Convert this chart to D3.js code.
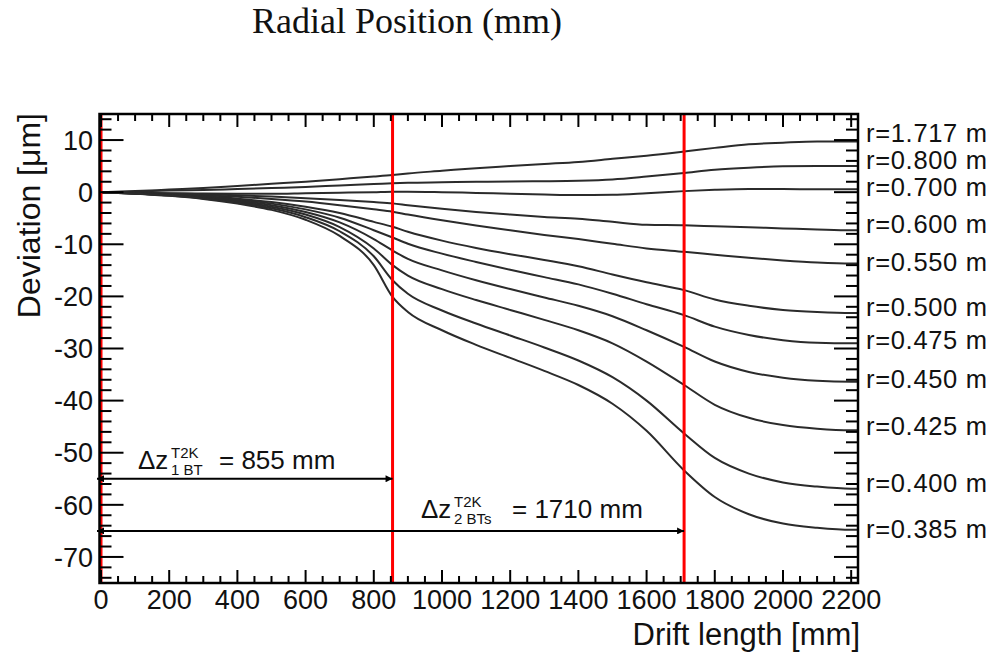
<!DOCTYPE html>
<html>
<head>
<meta charset="utf-8">
<script src="https://cdn.jsdelivr.net/npm/d3@7"></script>
<style>
  html, body { margin: 0; padding: 0; background: #fff; }
  svg { display: block; }
</style>
</head>
<body>
<svg id="chart" width="999" height="656"></svg>
<script>
// Drift length samples (mm) shared by every curve
const driftLength = [0, 100, 200, 300, 400, 500, 600, 700, 800, 855, 900, 1000, 1100, 1200,
                     1300, 1400, 1500, 1600, 1710, 1800, 1900, 2000, 2100, 2200, 2220];

// Deviation (µm) for each radial position
const radii = ["1.717", "0.800", "0.700", "0.600", "0.550", "0.500", "0.475", "0.450", "0.425", "0.400", "0.385"];
const dev_1717 = [0, 0.2, 0.5, 0.8, 1.2, 1.6, 2.0, 2.5, 3.0, 3.3, 3.6, 4.1, 4.6, 5.0, 5.4, 5.8, 6.4, 7.0, 7.8, 8.5, 9.2, 9.5, 9.7, 9.7, 9.7];
const dev_0800 = [0, 0.1, 0.3, 0.4, 0.6, 0.8, 1.0, 1.3, 1.55, 1.7, 1.8, 1.9, 2.0, 2.05, 2.1, 2.2, 2.45, 3.0, 3.7, 4.3, 4.7, 4.95, 5.0, 5.0, 5.0];
const dev_0700 = [0, -0.1, -0.2, -0.25, -0.3, -0.3, -0.2, -0.1, 0, 0.1, 0.1, 0.0, -0.15, -0.3, -0.45, -0.55, -0.5, -0.2, 0.2, 0.45, 0.6, 0.6, 0.55, 0.55, 0.55];
const dev_0600 = [0, -0.1, -0.25, -0.4, -0.6, -0.85, -1.15, -1.5, -1.9, -2.15, -2.5, -3.2, -3.8, -4.3, -4.75, -5.1, -5.7, -6.25, -6.35, -6.55, -6.75, -6.95, -7.15, -7.3, -7.3];
const dev_0550 = [0, -0.15, -0.35, -0.6, -0.9, -1.3, -1.8, -2.5, -3.3, -3.76, -4.3, -5.4, -6.4, -7.3, -8.2, -9.0, -9.9, -10.8, -11.45, -12.0, -12.6, -13.1, -13.5, -13.7, -13.7];
const dev_0500 = [0, -0.2, -0.45, -0.8, -1.25, -1.9, -2.8, -4.0, -5.7, -6.65, -7.6, -9.3, -10.7, -11.9, -13.0, -14.2, -15.8, -17.3, -18.8, -20.6, -21.8, -22.6, -23.0, -23.2, -23.2];
const dev_0475 = [0, -0.2, -0.5, -0.9, -1.4, -2.2, -3.3, -4.9, -7.3, -8.7, -9.9, -11.8, -13.4, -14.9, -16.3, -17.7, -19.5, -21.5, -23.6, -25.8, -27.4, -28.4, -28.9, -29.0, -29.0];
const dev_0450 = [0, -0.25, -0.55, -1.0, -1.6, -2.5, -3.8, -5.8, -9.0, -11.2, -12.8, -15.0, -16.9, -18.6, -20.2, -21.8, -23.8, -26.5, -29.7, -32.5, -34.5, -35.6, -36.2, -36.4, -36.4];
const dev_0425 = [0, -0.25, -0.6, -1.1, -1.8, -2.8, -4.3, -6.7, -10.8, -14.0, -16.0, -18.6, -20.7, -22.6, -24.5, -26.5, -29.0, -32.5, -37.0, -40.8, -43.3, -44.7, -45.4, -45.7, -45.7];
const dev_0400 = [0, -0.3, -0.65, -1.2, -2.0, -3.1, -4.8, -7.5, -12.3, -16.9, -19.5, -22.7, -25.2, -27.5, -29.8, -32.3, -35.5, -40.0, -46.3, -51.0, -54.0, -55.7, -56.5, -56.9, -56.9];
const dev_0385 = [0, -0.3, -0.7, -1.3, -2.2, -3.4, -5.3, -8.4, -14.0, -20.1, -23.0, -26.5, -29.3, -31.8, -34.3, -37.0, -40.6, -45.8, -53.4, -58.5, -61.8, -63.6, -64.4, -64.8, -64.8];
const deviations = [dev_1717, dev_0800, dev_0700, dev_0600, dev_0550, dev_0500, dev_0475, dev_0450, dev_0425, dev_0400, dev_0385];

// Vertical placement (µm) of the radius labels at the right of the frame
const labelAt = [11.3, 6.2, 1.1, -6.13, -13.37, -22.01, -28.28, -35.77, -44.93, -55.82, -64.58];

// Boundaries of the gating structures (mm) and their spacing annotations
const boundaries = [0, 855, 1710];
const spans = [
  { to: 855,  at: -55, sub: "1 BT",  value: "855" },
  { to: 1710, at: -65, sub: "2 BTs", value: "1710" }
];

const xTicks = d3.range(0, 2201, 200);
const yTicks = d3.range(-70, 11, 10);

const svg = d3.select("#chart");
const sans = "'Liberation Sans', Arial, Helvetica, sans-serif";

const frame = { left: 99.5, right: 858, top: 114, bottom: 583 };
const x = d3.scaleLinear().domain([0, 2220]).range([101, frame.right]);
const y = d3.scaleLinear().domain([-75, 15]).range([frame.bottom, frame.top]);

// Title
svg.append("text")
  .attr("x", 407).attr("y", 33)
  .attr("text-anchor", "middle")
  .attr("font-family", "'Liberation Serif', 'Times New Roman', serif")
  .attr("font-size", 36)
  .attr("fill", "#111")
  .text("Radial Position (mm)");

const plot = svg.append("g");

// Curves
const line = d3.line()
  .x((d, i) => x(driftLength[i]))
  .y(d => y(d))
  .curve(d3.curveMonotoneX);

plot.selectAll("path.curve")
  .data(deviations)
  .join("path")
  .attr("class", "curve")
  .attr("d", line)
  .attr("fill", "none")
  .attr("stroke", "#2b2b2b")
  .attr("stroke-width", 2);

// Red boundary lines
plot.selectAll("line.boundary")
  .data(boundaries)
  .join("line")
  .attr("class", "boundary")
  .attr("x1", d => x(d)).attr("x2", d => x(d))
  .attr("y1", frame.top).attr("y2", frame.bottom)
  .attr("stroke", "#ff0000")
  .attr("stroke-width", 3);

// Span arrows
const defs = svg.append("defs");
defs.append("marker")
  .attr("id", "arrow").attr("viewBox", "0 0 10 10")
  .attr("refX", 10).attr("refY", 5)
  .attr("markerWidth", 4).attr("markerHeight", 3.5)
  .attr("markerUnits", "strokeWidth")
  .attr("orient", "auto-start-reverse")
  .append("path").attr("d", "M0,0 L10,5 L0,10 Z").attr("fill", "#000");

plot.selectAll("line.span")
  .data(spans)
  .join("line")
  .attr("class", "span")
  .attr("x1", x(0) - 4).attr("x2", d => x(d.to))
  .attr("y1", d => y(d.at)).attr("y2", d => y(d.at))
  .attr("stroke", "#000")
  .attr("stroke-width", 2)
  .attr("marker-start", "url(#arrow)")
  .attr("marker-end", "url(#arrow)");

// Span labels: Δz with stacked super/subscripts
const spanLabelPos = [{ x: 138, y: 469 }, { x: 421, y: 518 }];
spans.forEach((s, i) => {
  const p = spanLabelPos[i];
  const g = svg.append("g").attr("font-family", sans).attr("fill", "#111");
  g.append("text").attr("x", p.x).attr("y", p.y).attr("font-size", 26).text("\u0394z");
  g.append("text").attr("x", p.x + 33).attr("y", p.y - 11).attr("font-size", 15).text("T2K");
  g.append("text").attr("x", p.x + 33).attr("y", p.y + 6).attr("font-size", 15).text(s.sub);
  const w = i === 0 ? 38 : 48;
  g.append("text").attr("x", p.x + 33 + w + 10).attr("y", p.y).attr("font-size", 26)
    .text("= " + s.value + " mm");
});

// Frame with ticks on all four sides
const axisG = svg.append("g").attr("stroke", "#000");
axisG.append("rect")
  .attr("x", frame.left).attr("y", frame.top)
  .attr("width", frame.right - frame.left).attr("height", frame.bottom - frame.top)
  .attr("fill", "none").attr("stroke-width", 2.5);

const xMinor = d3.range(0, 2201, 50).filter(v => v % 200 !== 0);
const yMinor = d3.range(-74, 15, 2).filter(v => v % 10 !== 0);

function xTickMarks(vals, len) {
  vals.forEach(v => {
    axisG.append("line").attr("x1", x(v)).attr("x2", x(v))
      .attr("y1", frame.bottom).attr("y2", frame.bottom - len).attr("stroke-width", 2);
    axisG.append("line").attr("x1", x(v)).attr("x2", x(v))
      .attr("y1", frame.top).attr("y2", frame.top + len).attr("stroke-width", 2);
  });
}
function yTickMarks(vals, len) {
  vals.forEach(v => {
    axisG.append("line").attr("x1", frame.left).attr("x2", frame.left + len)
      .attr("y1", y(v)).attr("y2", y(v)).attr("stroke-width", 2);
    axisG.append("line").attr("x1", frame.right).attr("x2", frame.right - len)
      .attr("y1", y(v)).attr("y2", y(v)).attr("stroke-width", 2);
  });
}
xTickMarks(xTicks, 13);
xTickMarks(xMinor, 7);
yTickMarks(yTicks, 24);
yTickMarks(yMinor, 12);

// Tick labels
svg.append("g").selectAll("text")
  .data(xTicks).join("text")
  .attr("x", d => x(d)).attr("y", 609)
  .attr("text-anchor", "middle")
  .attr("font-family", sans).attr("font-size", 27).attr("fill", "#111")
  .text(d => d);

svg.append("g").selectAll("text")
  .data(yTicks).join("text")
  .attr("x", 93).attr("y", d => y(d))
  .attr("dy", "0.36em")
  .attr("text-anchor", "end")
  .attr("font-family", sans).attr("font-size", 27).attr("fill", "#111")
  .text(d => d);

// Axis titles
svg.append("text")
  .attr("x", 860).attr("y", 645)
  .attr("text-anchor", "end")
  .attr("font-family", sans).attr("font-size", 31).attr("fill", "#111")
  .text("Drift length [mm]");

svg.append("text")
  .attr("transform", "translate(40,113) rotate(-90)")
  .attr("text-anchor", "end")
  .attr("font-family", sans).attr("font-size", 32).attr("fill", "#111")
  .text("Deviation [\u03bcm]");

// Radius labels
svg.append("g").selectAll("text")
  .data(radii).join("text")
  .attr("x", 866).attr("y", (d, i) => y(labelAt[i]))
  .attr("dy", "0.36em")
  .attr("font-family", sans).attr("font-size", 25.5).attr("fill", "#111")
  .attr("textLength", 121).attr("lengthAdjust", "spacing")
  .text(d => "r=" + d + " m");
</script>
</body>
</html>
